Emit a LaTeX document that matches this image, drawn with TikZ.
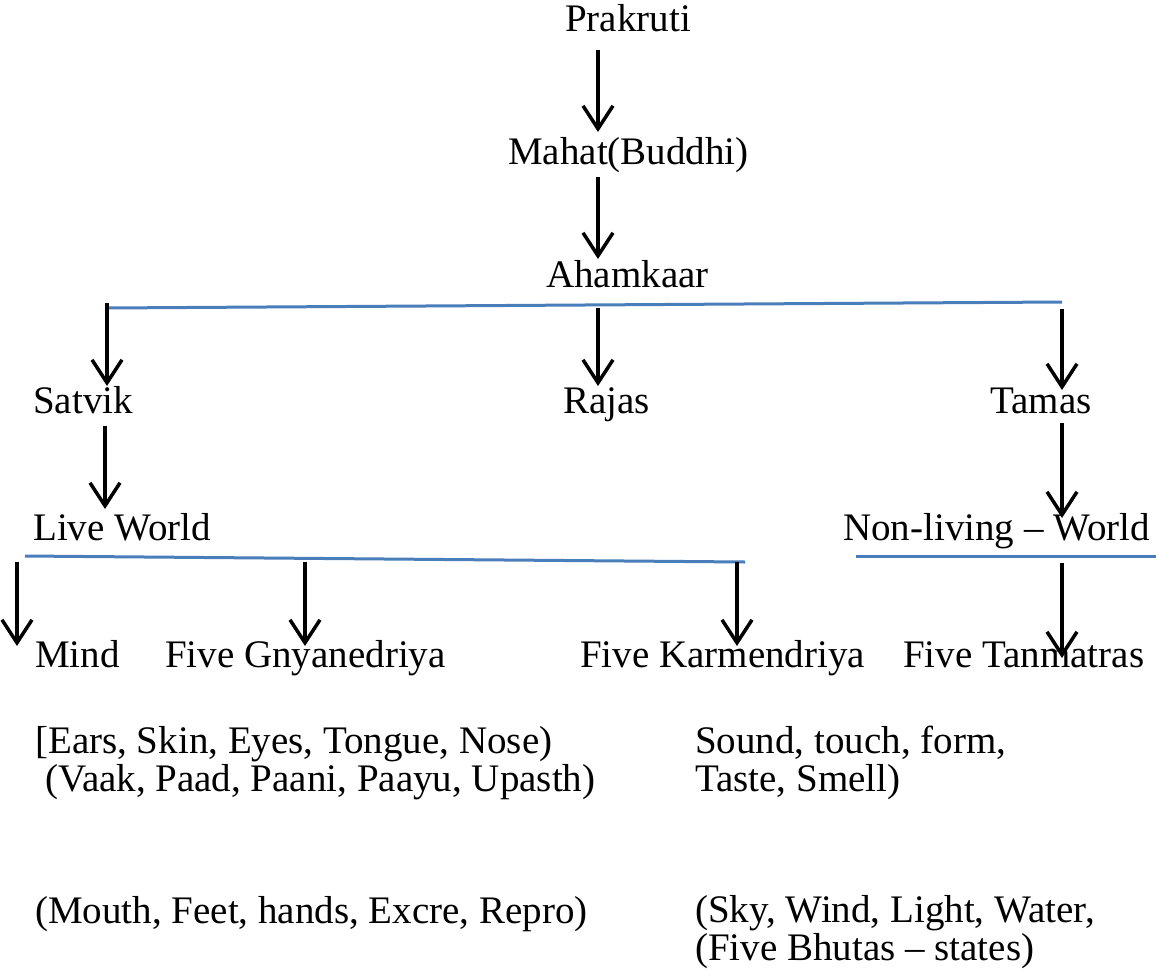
\documentclass[tikz,border=0pt]{standalone}
\usepackage{fontspec}
\setmainfont{Liberation Serif}
\usetikzlibrary{arrows.meta}
\definecolor{lineblue}{HTML}{4A7EBB}
\tikzset{
  lbl/.style={anchor=base west, inner sep=0pt, font=\fontsize{39}{47}\selectfont},
  arr/.style={draw=black, line width=3.5pt, -{Straight Barb[length=23pt,width=30pt,line width=3.5pt]}},
  bar/.style={draw=lineblue, line width=3pt}
}
\begin{document}
\begin{tikzpicture}[x=1pt,y=-1pt]
\useasboundingbox (0,0) rectangle (1156,974);
% texts
\node[lbl] (prak) at (565,32) {Prakruti};
\node[lbl] (mahat) at (508,164) {Mahat(Buddhi)};
\node[lbl] (aham) at (546,287) {Ahamkaar};
\node[lbl] (sat) at (33,413) {Satvik};
\node[lbl] (raj) at (563,413) {Rajas};
\node[lbl] (tam) at (990,413) {Tamas};
\node[lbl] (live) at (33,540) {Live World};
\node[lbl] (nonl) at (843,540) {Non-living -- World};
\node[lbl] (mind) at (35,667) {Mind};
\node[lbl] (gnya) at (165,667) {Five Gnyanedriya};
\node[lbl] (karm) at (580,667) {Five Karmendriya};
\node[lbl] (tanm) at (903,667) {Five Tanmatras};
\node[lbl] (ears) at (35,753) {[Ears, Skin, Eyes, Tongue, Nose)};
\node[lbl] (vaak) at (45,791) {(Vaak, Paad, Paani, Paayu, Upasth)};
\node[lbl] (sound) at (695,753) {Sound, touch, form,};
\node[lbl] (taste) at (695,791) {Taste, Smell)};
\node[lbl] (mouth) at (35,923) {(Mouth, Feet, hands, Excre, Repro)};
\node[lbl] (sky) at (695,922) {(Sky, Wind, Light, Water,};
\node[lbl] (bhut) at (695,960) {(Five Bhutas -- states)};
% bars
\coordinate (b1l) at (107,308);
\coordinate (b1r) at (1062,302);
\draw[bar] (b1l) -- (b1r);
\coordinate (b2l) at (25,556);
\coordinate (b2r) at (745,562);
\draw[bar] (b2l) -- (b2r);
\coordinate (b3l) at (856,556);
\coordinate (b3r) at (1156,556);
\draw[bar] (b3l) -- (b3r);
% arrow coordinates
\coordinate (a1s) at (598,50);   \coordinate (a1e) at (598,132);
\coordinate (a2s) at (598,177);  \coordinate (a2e) at (598,259);
\coordinate (a3s) at (107,303);  \coordinate (a3e) at (107,386);
\coordinate (a4s) at (598,308);  \coordinate (a4e) at (598,386);
\coordinate (a5s) at (1062,309); \coordinate (a5e) at (1062,390);
\coordinate (a6s) at (105,426);  \coordinate (a6e) at (105,509);
\coordinate (a7s) at (1062,423); \coordinate (a7e) at (1062,518);
\coordinate (a8s) at (17,562);   \coordinate (a8e) at (17,646);
\coordinate (a9s) at (305,562);  \coordinate (a9e) at (305,646);
\coordinate (a10s) at (737,562); \coordinate (a10e) at (737,646);
\coordinate (a11s) at (1062,563);\coordinate (a11e) at (1062,658);
\draw[arr] (a1s) -- (a1e);
\draw[arr] (a2s) -- (a2e);
\draw[arr] (a3s) -- (a3e);
\draw[arr] (a4s) -- (a4e);
\draw[arr] (a5s) -- (a5e);
\draw[arr] (a6s) -- (a6e);
\draw[arr] (a7s) -- (a7e);
\draw[arr] (a8s) -- (a8e);
\draw[arr] (a9s) -- (a9e);
\draw[arr] (a10s) -- (a10e);
\draw[arr] (a11s) -- (a11e);
\end{tikzpicture}
\end{document}
